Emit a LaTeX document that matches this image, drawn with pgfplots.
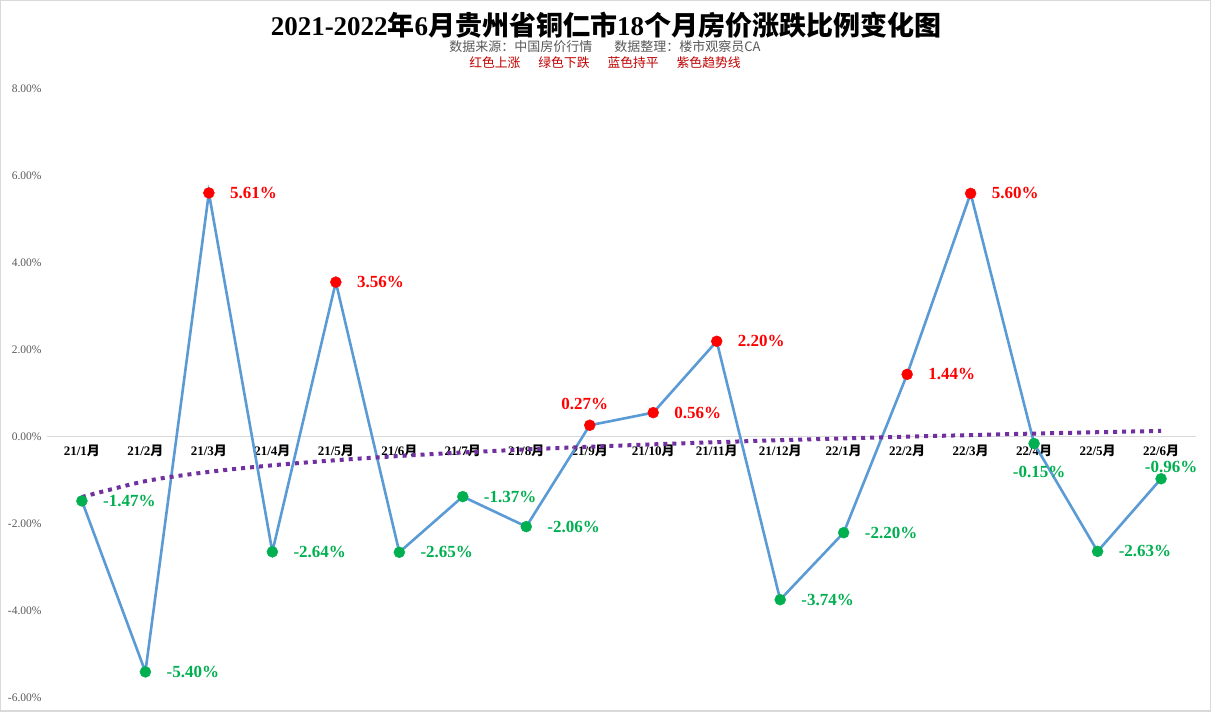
\documentclass[border=0pt]{standalone}
\usepackage{pgfplots}
\pgfplotsset{compat=1.18}
\usepackage{pgfplotstable}
\usepackage{fontspec}
\setmainfont{Liberation Serif}
\newfontfamily\cjk{Noto Sans CJK SC}
\definecolor{lineblue}{RGB}{91,155,213}
\definecolor{trendpurple}{RGB}{112,48,160}
\definecolor{upred}{RGB}{255,0,0}
\definecolor{downgreen}{RGB}{0,176,80}
\definecolor{subred}{RGB}{192,0,0}
\definecolor{subgray}{RGB}{89,89,89}
\newcommand{\yue}{{\cjk 月}}

\pgfplotstableread{
x y
1 -1.47
2 -5.40
3 5.61
4 -2.64
5 3.56
6 -2.65
7 -1.37
8 -2.06
9 0.27
10 0.56
11 2.20
12 -3.74
13 -2.20
14 1.44
15 5.60
16 -0.15
17 -2.63
18 -0.96
}\alldata

\pgfplotstableread{
x y
3 5.61
5 3.56
10 0.56
11 2.20
14 1.44
15 5.60
}\posright

\pgfplotstableread{
x y
9 0.27
}\posabove

\pgfplotstableread{
x y
1 -1.47
2 -5.40
4 -2.64
6 -2.65
7 -1.37
8 -2.06
12 -3.74
13 -2.20
17 -2.63
}\negright

\pgfplotstableread{
x y
16 -0.15
}\negbelow

\pgfplotstableread{
x y
18 -0.96
}\negabove

\pgfplotstableread{
x y
1 -1.380
2 -1.015
3 -0.802
4 -0.651
5 -0.534
6 -0.437
7 -0.356
8 -0.286
9 -0.224
10 -0.169
11 -0.119
12 -0.073
13 -0.031
14 0.008
15 0.044
16 0.079
17 0.110
18 0.140
}\trend

\begin{document}
\begin{tikzpicture}
\useasboundingbox (-47pt,-14pt) rectangle (1164pt,698pt);
\fill[white] (-47pt,-14pt) rectangle (1164pt,698pt);
\draw[gray!30, line width=1.5pt] (-46.25pt,-13.25pt) rectangle (1163.25pt,697.25pt);
\begin{axis}[
  at={(0pt,0pt)}, anchor=south west, scale only axis,
  width=1149pt, height=609pt,
  xmin=0.45, xmax=18.55, ymin=-6, ymax=8,
  axis x line=middle, axis y line=left,
  hide obscured x ticks=false, hide obscured y ticks=false,
  x axis line style={draw=gray!30, line width=1pt, -},
  y axis line style={draw=none},
  xtick={1,...,18},
  xticklabels={21/1\yue,21/2\yue,21/3\yue,21/4\yue,21/5\yue,21/6\yue,21/7\yue,21/8\yue,21/9\yue,21/10\yue,21/11\yue,21/12\yue,22/1\yue,22/2\yue,22/3\yue,22/4\yue,22/5\yue,22/6\yue},
  ytick={-6,-4,-2,0,2,4,6,8},
  major tick length=0pt,
  xticklabel style={font=\bfseries\fontsize{13}{13}\selectfont, anchor=north, yshift=-4pt},
  yticklabel style={font=\fontsize{11.5}{11.5}\selectfont, text=subgray, anchor=east, xshift=-2pt},
  yticklabel={\pgfmathprintnumber[fixed,fixed zerofill,precision=2,assume math mode=true]{\tick}\%},
  clip=false,
]
\addplot[lineblue, line width=2.6pt, no marks] table {\alldata};
\addplot[trendpurple, line width=4pt, dash pattern=on 4pt off 5pt, no marks, smooth] table {\trend};
\addplot[only marks, mark=*, mark size=5.5pt, upred,
  nodes near coords={\pgfmathprintnumber[fixed,fixed zerofill,precision=2,assume math mode=true]{\pgfplotspointmeta}\%},
  point meta=y,
  every node near coord/.style={anchor=west, inner sep=0pt, xshift=21pt, font=\bfseries\fontsize{17}{17}\selectfont, text=upred}]
  table {\posright};
\addplot[only marks, mark=*, mark size=5.5pt, upred,
  nodes near coords={\pgfmathprintnumber[fixed,fixed zerofill,precision=2,assume math mode=true]{\pgfplotspointmeta}\%},
  point meta=y,
  every node near coord/.style={anchor=center, inner sep=0pt, xshift=-5pt, yshift=21pt, font=\bfseries\fontsize{17}{17}\selectfont, text=upred}]
  table {\posabove};
\addplot[only marks, mark=*, mark size=5.5pt, downgreen,
  nodes near coords={\pgfmathprintnumber[fixed,fixed zerofill,precision=2,assume math mode=true]{\pgfplotspointmeta}\%},
  point meta=y,
  every node near coord/.style={anchor=west, inner sep=0pt, xshift=21pt, font=\bfseries\fontsize{17}{17}\selectfont, text=downgreen}]
  table {\negright};
\addplot[only marks, mark=*, mark size=5.5pt, downgreen,
  nodes near coords={\pgfmathprintnumber[fixed,fixed zerofill,precision=2,assume math mode=true]{\pgfplotspointmeta}\%},
  point meta=y,
  every node near coord/.style={anchor=center, inner sep=0pt, xshift=5pt, yshift=-28pt, font=\bfseries\fontsize{17}{17}\selectfont, text=downgreen}]
  table {\negbelow};
\addplot[only marks, mark=*, mark size=5.5pt, downgreen,
  nodes near coords={\pgfmathprintnumber[fixed,fixed zerofill,precision=2,assume math mode=true]{\pgfplotspointmeta}\%},
  point meta=y,
  every node near coord/.style={anchor=center, inner sep=0pt, xshift=10pt, yshift=12pt, font=\bfseries\fontsize{17}{17}\selectfont, text=downgreen}]
  table {\negabove};
\end{axis}
\node[font=\bfseries\fontsize{27}{27}\selectfont, inner sep=0pt] at (559pt,673pt) {2021-2022{\cjk 年}6{\cjk 月贵州省铜仁市}18{\cjk 个月房价涨跌比例变化图}};
\node[font=\cjk\fontsize{13}{13}\selectfont, text=subgray, inner sep=0pt] at (558pt,651pt) {数据来源：中国房价行情\hspace{1.7em}数据整理：楼市观察员CA};
\node[font=\cjk\fontsize{12.8}{12.8}\selectfont, text=subred, inner sep=0pt] at (558pt,635pt) {红色上涨\hspace{1.4em}绿色下跌\hspace{1.4em}蓝色持平\hspace{1.4em}紫色趋势线};
\end{tikzpicture}
\end{document}
